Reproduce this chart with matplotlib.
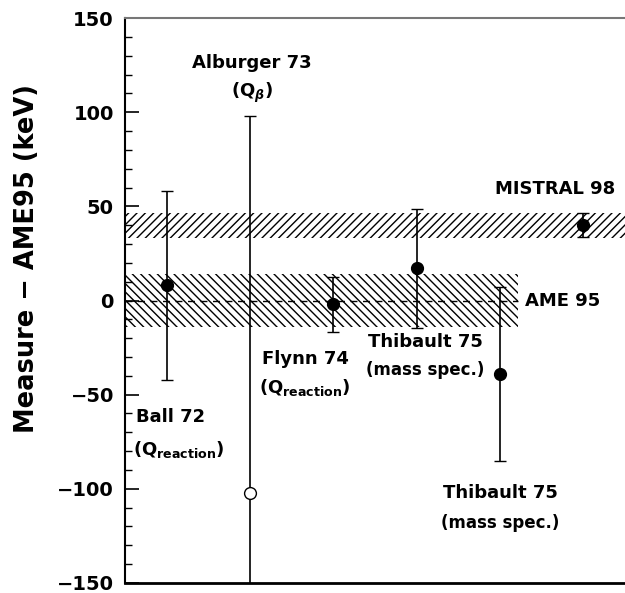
import matplotlib
matplotlib.use("Agg")
import matplotlib.pyplot as plt
from matplotlib.ticker import MultipleLocator

# measurements (relative to AME95, keV)
xpos = [0.5, 1.5, 2.5, 3.5, 4.5, 5.5]
vals = [8, -102, -2, 17, -39, 40]
errs = [50, 200, 14.5, 31.5, 46, 6.5]
filled = [True, False, True, True, True, True]

ame_center, ame_err, ame_xmax = 0, 14, 4.72
mistral_center, mistral_err = 40, 6.7

plt.rcParams['font.family'] = ['DejaVu Sans']
plt.rcParams['font.weight'] = 'bold'
plt.rcParams['mathtext.default'] = 'bf'
plt.rcParams['hatch.linewidth'] = 1.0

fig = plt.figure(figsize=(6.25, 5.93), dpi=100)
ax = fig.add_axes([0.2, 0.0169, 0.8, 0.9527])

# bands
ax.fill_between([0, 6], mistral_center - mistral_err, mistral_center + mistral_err,
                facecolor='none', edgecolor='black', hatch='////', linewidth=0)
ax.fill_between([0, ame_xmax], ame_center - ame_err, ame_center + ame_err,
                facecolor='none', edgecolor='black', hatch='\\\\\\\\', linewidth=0)
ax.plot([0, ame_xmax], [ame_center, ame_center], 'k--', lw=1, dashes=(5, 4))

for x, v, e, f in zip(xpos, vals, errs, filled):
    ax.errorbar(x, v, yerr=e, fmt='o', color='black', ms=8.5,
                mfc='black' if f else 'white', mec='black', mew=1,
                ecolor='black', elinewidth=1.2, capsize=4.5, capthick=1.2, zorder=3)

ax.set_xlim(0, 6)
ax.set_ylim(-150, 150)
ax.yaxis.set_major_locator(MultipleLocator(50))
ax.yaxis.set_minor_locator(MultipleLocator(10))
ax.tick_params(axis='y', which='major', direction='in', length=10, width=1.2,
               labelsize=14, pad=8)
ax.tick_params(axis='y', which='minor', direction='in', length=5, width=1)
ax.set_xticks([])
ax.spines['right'].set_visible(False)
ax.spines['top'].set_color('#777777')
ax.spines['top'].set_linewidth(1.5)
ax.spines['bottom'].set_linewidth(2)
ax.spines['left'].set_linewidth(1.5)

ax.set_ylabel('Measure − AME95 (keV)', fontsize=18.5, fontweight='bold')
ax.yaxis.set_label_coords(-0.17, 0.575)

fs = 13
ax.text(1.52, 126, 'Alburger 73', ha='center', va='center', fontsize=fs)
ax.text(1.52, 110, r'(Q$_{\boldsymbol{\beta}}$)', ha='center', va='center', fontsize=fs)
ax.text(0.13, -62, 'Ball 72', ha='left', va='center', fontsize=fs)
ax.text(0.1, -79, r'(Q$_{reaction}$)', ha='left', va='center', fontsize=fs)
ax.text(2.16, -31, 'Flynn 74', ha='center', va='center', fontsize=fs)
ax.text(2.16, -46, r'(Q$_{reaction}$)', ha='center', va='center', fontsize=fs)
ax.text(3.6, -22, 'Thibault 75', ha='center', va='center', fontsize=fs)
ax.text(3.6, -37, '(mass spec.)', ha='center', va='center', fontsize=12)
ax.text(4.5, -102, 'Thibault 75', ha='center', va='center', fontsize=fs)
ax.text(4.5, -118, '(mass spec.)', ha='center', va='center', fontsize=12)
ax.text(5.16, 59, 'MISTRAL 98', ha='center', va='center', fontsize=fs)
ax.text(5.25, 0, 'AME 95', ha='center', va='center', fontsize=fs)

fig.savefig('out.png', dpi=100)
